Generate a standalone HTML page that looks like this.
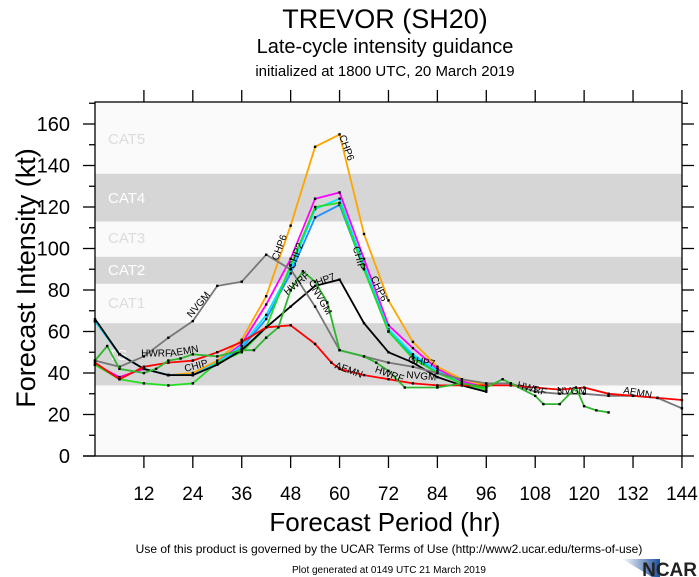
<!DOCTYPE html>
<html><head><meta charset="utf-8"><style>
html,body{margin:0;padding:0;background:#fff;}
svg{display:block;font-family:"Liberation Sans",Arial,sans-serif;}
</style></head><body>
<svg id="s" width="699" height="577" viewBox="0 0 699 577" xmlns="http://www.w3.org/2000/svg">
<rect width="699" height="577" fill="#fff"/>
<text x="385" y="28" font-size="27" text-anchor="middle">TREVOR (SH20)</text>
<text x="385" y="53" font-size="20" text-anchor="middle">Late-cycle intensity guidance</text>
<text x="385" y="76" font-size="15" text-anchor="middle">initialized at 1800 UTC, 20 March 2019</text>
<rect x="95" y="102" width="587" height="354" fill="#fafafa"/>
<g id="bands"></g>
<g font-size="15" fill="#fff">
<text x="108" y="144" fill="#dcdcdc">CAT5</text>
<text x="108" y="203">CAT4</text>
<text x="108" y="243" fill="#dcdcdc">CAT3</text>
<text x="108" y="275">CAT2</text>
<text x="108" y="308" fill="#dcdcdc">CAT1</text>
<text x="108" y="360">TS</text>
</g>
<g id="ser"></g>
<g id="ax" stroke="#000" stroke-width="1.3" fill="none"></g>
<g id="lab" font-size="19" text-anchor="middle"></g>
<text transform="translate(35,278) rotate(-90)" font-size="27" text-anchor="middle">Forecast Intensity (kt)</text>
<text x="385" y="531" font-size="26" text-anchor="middle">Forecast Period (hr)</text>
<text x="389" y="553" font-size="12" text-anchor="middle">Use of this product is governed by the UCAR Terms of Use (http://www2.ucar.edu/terms-of-use)</text>
<text x="389" y="573" font-size="10" text-anchor="middle">Plot generated at 0149 UTC   21 March 2019</text>
<defs><linearGradient id="g" x1="0" x2="1"><stop offset="0" stop-color="#fff"/><stop offset="1" stop-color="#1a4f9c"/></linearGradient></defs>
<polygon points="622,559 660,559 660,577 652,577" fill="url(#g)"/>
<text x="697" y="576" font-size="19" font-weight="bold" fill="#222" text-anchor="end">NCAR</text>
</svg>
<script>
var NS="http://www.w3.org/2000/svg";
function X(h){return 95+h*4.076;}
function Y(k){return 456-k*2.075;}
function el(p,t,a,txt){var e=document.createElementNS(NS,t);for(var k in a)e.setAttribute(k,a[k]);if(txt!=null)e.textContent=txt;p.appendChild(e);return e;}
var b=document.getElementById('bands');
[[34,64],[83,96],[113,136]].forEach(function(r){el(b,'rect',{x:95,y:Y(r[1]),width:587,height:Y(r[0])-Y(r[1]),fill:'#d6d6d6'});});
var S={
'#ffa500':[[0,44],[6,38],[12,42],[18,39],[24,40],[30,46],[36,56],[42,77],[48,111],[54,149],[60,155],[66,107],[72,75],[78,55],[84,43],[90,37],[96,34]],
'#ff00ff':[[0,44],[6,38],[12,42],[18,39],[24,39],[30,45],[36,54],[42,73],[48,95],[54,124],[60,127],[66,95],[72,63],[78,52],[84,42],[90,36],[96,33]],
'#1e90ff':[[0,65],[6,49],[12,42],[18,39],[24,39],[30,44],[36,52],[42,66],[48,88],[54,115],[60,121],[66,90],[72,60],[78,48],[84,40],[90,35],[96,32]],
'#00e5ff':[[0,65],[6,49],[12,42],[18,39],[24,39],[30,45],[36,53],[42,68],[48,90],[54,119],[60,124],[66,92],[72,61],[78,49],[84,41],[90,35],[96,33]],
'#22dd22':[[0,44],[6,37],[12,35],[18,34],[24,35],[30,45],[36,50],[42,62],[48,92],[54,120],[60,122],[66,90],[72,60],[78,47],[84,40],[90,35],[96,32]],
'#000':[[0,66],[6,49],[12,42],[18,39],[24,39],[30,44],[36,51],[42,62],[48,72],[54,82],[60,85],[66,64],[72,50],[78,45],[84,38],[90,34],[96,31]],
'#777':[[0,46],[6,43],[12,48],[18,57],[24,65],[30,82],[36,84],[42,97],[48,90],[54,72],[60,51],[66,48],[72,45],[78,43],[84,40],[90,37],[96,35],[102,35],[108,31],[114,30],[120,30],[126,29],[132,29],[138,28],[144,23]],
'#ff0000':[[0,45],[6,37],[12,43],[18,45],[24,46],[30,50],[36,55],[42,62],[48,63],[54,54],[58,45],[60,42],[66,39],[72,37],[78,35],[84,34],[90,34],[96,34],[102,34],[108,33],[114,32],[120,33],[126,30],[132,29],[138,28],[144,27]],
'#2fb52f':[[0,46],[3,53],[6,42],[12,40],[15,42],[18,46],[21,47],[24,49],[30,48],[36,51],[39,51],[42,57],[45,62],[48,80],[51,89],[54,84],[57,74],[60,51],[66,48],[69,45],[72,41],[76,33],[84,33],[90,35],[96,33],[100,37],[102,35],[108,29],[110,25],[114,25],[118,33],[120,24],[123,22],[126,21]]
};
var g=document.getElementById('ser');
for(var c in S){var p=S[c].map(function(q){return X(q[0]).toFixed(1)+','+Y(q[1]).toFixed(1);}).join(' ');
el(g,'polyline',{points:p,fill:'none',stroke:c,'stroke-width':1.8});
S[c].forEach(function(q){el(g,'rect',{x:X(q[0])-1.2,y:Y(q[1])-1.2,width:2.4,height:2.4,fill:'#000'});});}
var L=[["CHP6",46,100,-70],["CHP6",61,148,70],["CHP6",69,80,65],["NVGM",26,72,-50],["HWRF",50,82,-40],["CHP7",56,83,-20],["NVGM",55,74,60],["AEMN",62,40,20],["HWRF",15,48,0],["AEMN",22,49,-10],["CHIP",25,42,-15],["HWRF",72,38,20],["NVGM",80,37,5],["GHP7",80,44,10],["HWRF",107,31,15],["NVGM",117,30,0],["AEMN",133,29,10],["CHP2",50,96,-70],["CHIP",64,95,75]];
L.forEach(function(l){el(g,'text',{x:X(l[1]),y:Y(l[2]),'font-size':10,'text-anchor':'middle',transform:'rotate('+l[3]+' '+X(l[1])+' '+Y(l[2])+')'},l[0]);});
var a=document.getElementById('ax');
el(a,'rect',{x:95,y:102,width:587,height:354});
var lab=document.getElementById('lab');
for(var k=0;k<=170;k+=10){var y=Y(k),m=k%20==0;
el(a,'line',{x1:95,y1:y,x2:m?83:89,y2:y});el(a,'line',{x1:682,y1:y,x2:m?694:688,y2:y});
if(m)el(lab,'text',{x:70,y:y+7,'text-anchor':'end','font-size':20},k);}
for(var h=12;h<=144;h+=12){var x=X(h);
el(a,'line',{x1:x,y1:456,x2:x,y2:468});el(a,'line',{x1:x,y1:102,x2:x,y2:90});
el(lab,'text',{x:x,y:500},h);}
el(a,'line',{x1:83,y1:456,x2:95,y2:456});
</script>
</body></html>
